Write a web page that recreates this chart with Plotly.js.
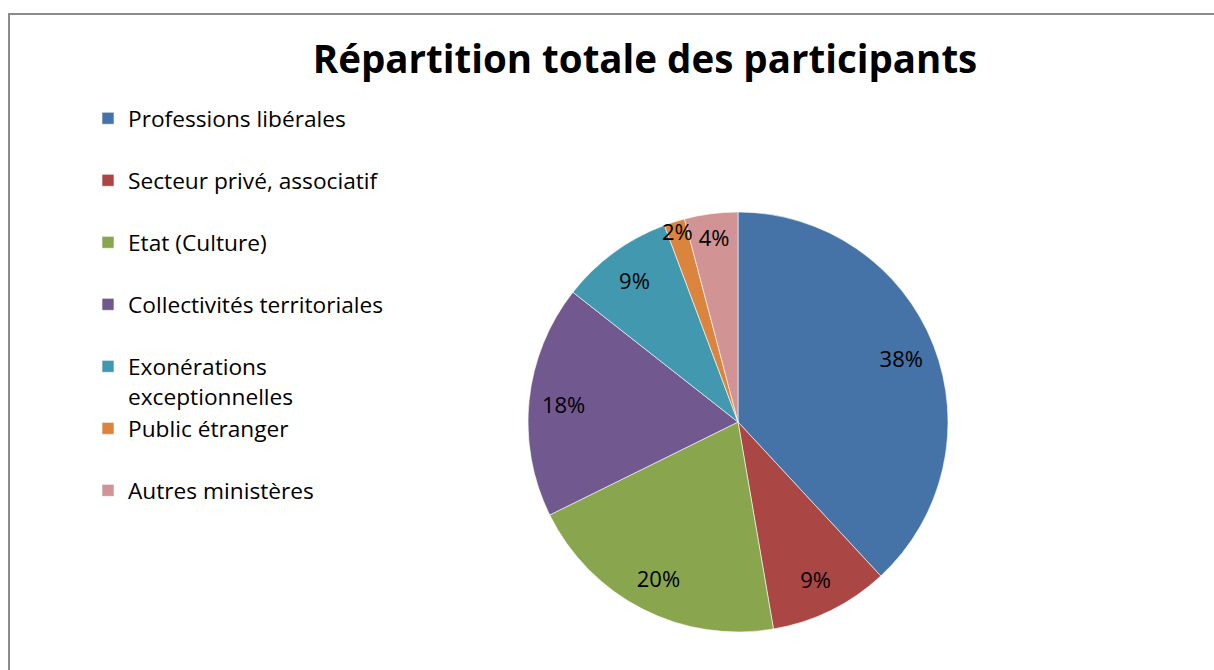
<!DOCTYPE html>
<html>
<head>
<meta charset="utf-8">
<script src="https://cdn.plot.ly/plotly-3.0.1.min.js"></script>
<style>
  html, body { margin: 0; padding: 0; background: #fff; overflow: hidden; }
  #chart { width: 1214px; height: 670px; }
  #frame { position: absolute; left: 8px; top: 13px; width: 1400px; height: 900px;
           border-left: 2px solid #8c8c8c; border-top: 2px solid #8c8c8c; pointer-events: none; }
</style>
</head>
<body>
<div id="chart"></div>
<div id="frame"></div>
<script>
const categories = [
  "Professions libérales",
  "Secteur privé, associatif",
  "Etat (Culture)",
  "Collectivités territoriales",
  "Exonérations exceptionnelles",
  "Public étranger",
  "Autres ministères"
];
const shares = [38.1, 9.2, 20.4, 17.9, 8.7, 1.6, 4.1];
const sliceColors = ["#4572A7", "#AA4643", "#89A54E", "#71588F", "#4198AF", "#DB843D", "#D19393"];

// Legend text: Excel wraps the long label; every entry gets the same two-line height
const legendLabels = categories.map(c =>
  c === "Exonérations exceptionnelles" ? "Exonérations<br>exceptionnelles" : c + "<br> "
);

const FONT = "'Open Sans', Lato, sans-serif";
const W = 1214, H = 670;
const pieDomain = { x: [528 / W, 948 / W], y: [1 - 632 / H, 1 - 212 / H] };

// Slices (no text)
const slices = {
  type: "pie",
  labels: legendLabels,
  values: shares,
  sort: false,
  direction: "clockwise",
  rotation: 0,
  marker: { colors: sliceColors, line: { color: "#ffffff", width: 0.6 } },
  textinfo: "none",
  hoverinfo: "label+percent",
  domain: pieDomain
};

// Percentage labels: same data drawn as a transparent ring so labels sit near the rim (Excel style)
const labelsRing = {
  type: "pie",
  labels: legendLabels,
  values: shares,
  sort: false,
  direction: "clockwise",
  rotation: 0,
  hole: 0.67,
  showlegend: false,
  marker: { colors: sliceColors.map(() => "rgba(0,0,0,0)"), line: { width: 0 } },
  texttemplate: "%{percent:.0%}",
  textposition: "inside",
  insidetextorientation: "horizontal",
  textfont: { family: FONT, size: 22, color: "#000000" },
  hoverinfo: "skip",
  domain: pieDomain
};

const layout = {
  width: W, height: H,
  margin: { l: 0, r: 0, t: 0, b: 0 },
  paper_bgcolor: "#ffffff",
  uniformtext: { mode: "show", minsize: 22 },
  title: {
    text: "<b>Répartition totale des participants</b>",
    font: { family: FONT, size: 38.5, color: "#000000" },
    x: 645 / W, xanchor: "center",
    y: 1 - 60 / H, yanchor: "middle", yref: "container"
  },
  showlegend: true,
  legend: {
    x: 88 / W, xanchor: "left",
    y: 1 - 97 / H, yanchor: "top",
    valign: "top",
    font: { family: FONT, size: 22.7, color: "#000000" },
    bgcolor: "rgba(0,0,0,0)"
  }
};

Plotly.newPlot("chart", [slices, labelsRing], layout, { displayModeBar: false, staticPlot: true });
</script>
</body>
</html>
